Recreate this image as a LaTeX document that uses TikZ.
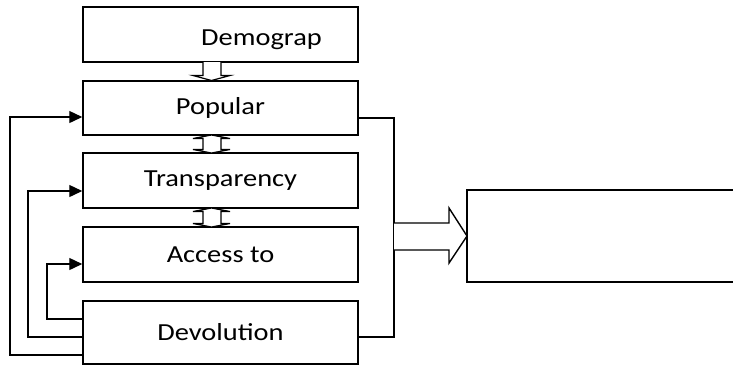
\documentclass[tikz,border=0pt]{standalone}
\usepackage{fontspec}
\setmainfont{Carlito}
\usepackage{graphicx}
\usetikzlibrary{arrows.meta,calc}
% text is set slightly wider than the font's natural width
\newcommand\stretchtxt[1]{\scalebox{1.16}[1]{#1}}
\begin{document}
\begin{tikzpicture}[x=1pt,y=-1pt,
  box/.style={draw,line width=1.5pt,minimum width=275pt,inner sep=0pt,
    font=\fontsize{24.5}{28}\selectfont},
  lbl/.style={inner sep=0pt,font=\fontsize{24.5}{28}\selectfont},
  link/.style={line width=1.4pt},
  tip/.style={link,-{Triangle[length=13pt,width=12pt]}},
  hollow/.style={draw,line width=1.2pt,fill=white,line join=miter}]
\useasboundingbox (0,0) rectangle (733,376);
\clip (0,0) rectangle (733,376);

% stacked boxes
\node[box,minimum height=55pt] (demo) at (220.5,34.5) {};
\node[lbl] (demotext) at (261.5,40) {\stretchtxt{Demograp}};
\node[box,minimum height=54pt] (pop) at (220.5,108) {\stretchtxt{Popular}};
\node[box,minimum height=55pt] (trans) at (220.5,180.5) {\stretchtxt{Transparency}};
\node[box,minimum height=55pt] (access) at (220.5,254.5) {\stretchtxt{Access to}};
\node[box,minimum height=63pt] (devo) at (220.5,332.5) {\stretchtxt{Devolution}};

% outcome box, running past the right edge
\node[minimum width=300pt,minimum height=92pt,anchor=west,inner sep=0pt] (result) at (467,236) {};
\draw[line width=1.5pt] (result.north east) -- (result.north west) -- (result.south west) -- (result.south east);

% hollow arrows between the stacked boxes
\draw[hollow] (203,62) -- (203,75.5) -- (193,75.5) -- (211.5,80.5) -- (230,75.5) -- (221,75.5) -- (221,62);
\draw[hollow] (211.5,135) -- (230,138.5) -- (221,138.5) -- (221,149.5) -- (230,149.5) -- (211.5,153)
  -- (193,149.5) -- (203,149.5) -- (203,138.5) -- (193,138.5) -- cycle;
\draw[hollow] (211.5,208) -- (230,211.5) -- (221,211.5) -- (221,223.5) -- (230,223.5) -- (211.5,227)
  -- (193,223.5) -- (203,223.5) -- (203,211.5) -- (193,211.5) -- cycle;

% right-hand bracket joining Popular and Devolution
\coordinate (brTop) at (394,118);
\coordinate (brBot) at (394,337);
\draw[link] (pop.east |- brTop) -- (brTop) -- (brBot) -- (devo.east |- brBot);

% block arrow to the outcome box
\draw[hollow,line width=1.4pt] (394,223) -- (449,223) -- (449,208) -- (result.west) -- (449,263) -- (449,250) -- (394,250);

% feedback loops from Devolution
\coordinate (loopA) at (10,355);
\coordinate (loopB) at (28,337);
\coordinate (loopC) at (47,319);
\draw[tip] (devo.west |- loopA) -- (loopA) |- ($(pop.west)+(0,9)$);
\draw[tip] (devo.west |- loopB) -- (loopB) |- ($(trans.west)+(0,10.5)$);
\draw[tip] (devo.west |- loopC) -- (loopC) |- ($(access.west)+(0,9.5)$);
\end{tikzpicture}
\end{document}
